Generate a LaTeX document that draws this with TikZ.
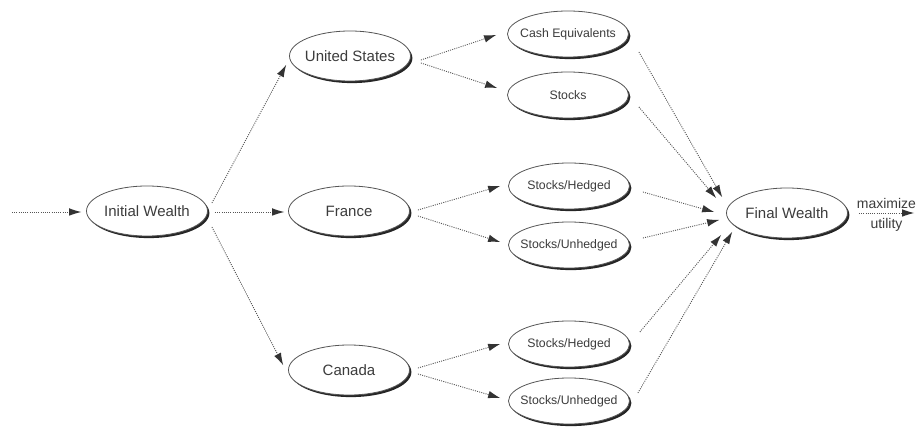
\documentclass[tikz,border=0pt]{standalone}
\usepackage{fontspec}
\setmainfont{Liberation Sans}
\usetikzlibrary{shapes.geometric,shadows,calc,arrows.meta}
\definecolor{txt}{HTML}{3C3C3C}
\definecolor{edge}{HTML}{555555}
\definecolor{tipc}{HTML}{333333}
\tikzset{
  ellbase/.style={ellipse, draw=edge, line width=0.8pt, fill=white, inner sep=0pt,
    text=txt, drop shadow={shadow xshift=1.9pt, shadow yshift=-2.1pt, opacity=1, fill=black!85}},
  bigell/.style={ellbase, minimum width=121pt, minimum height=50pt, font=\fontsize{15}{17}\selectfont},
  smallell/.style={ellbase, minimum width=121pt, minimum height=46pt, font=\fontsize{12.3}{14}\selectfont},
  conn/.style={draw=edge, line width=0.9pt, dash pattern=on 1pt off 1.2pt,
    -{Latex[length=12pt,width=7.5pt,fill=tipc,color=tipc,line width=0pt]}},
  lbl/.style={text=txt, font=\fontsize{14}{16}\selectfont, inner sep=1pt}
}
\begin{document}
\begin{tikzpicture}[x=1pt,y=-1pt]
\useasboundingbox (0,0) rectangle (920,427);
\node[bigell] (iw) at (147,211) {\makebox[0pt]{Initial Wealth}};
\node[bigell] (us) at (350,56) {\makebox[0pt]{United States}};
\node[bigell] (fr) at (349,211) {\makebox[0pt]{France}};
\node[bigell] (ca) at (349,370) {\makebox[0pt]{Canada}};
\node[smallell] (cash) at (568,34) {\makebox[0pt]{Cash Equivalents}};
\node[smallell] (stk) at (568,95) {\makebox[0pt]{Stocks}};
\node[smallell] (fh) at (569,186) {\makebox[0pt]{Stocks/Hedged}};
\node[smallell] (fu) at (569,245) {\makebox[0pt]{Stocks/Unhedged}};
\node[smallell] (ch) at (569,344) {\makebox[0pt]{Stocks/Hedged}};
\node[smallell] (cu) at (569,401) {\makebox[0pt]{Stocks/Unhedged}};
\node[bigell] (fw) at (787,213) {\makebox[0pt]{Final Wealth}};
\coordinate (src) at (12,212);
\coordinate (out) at (914,213);

\draw[conn] (src) -- ($(iw.west)+(-5,1)$);
\draw[conn] ($(iw.east)+(4,-8)$) -- ($(us.west)+(-3,9)$);
\draw[conn] ($(iw.east)+(7,1)$) -- ($(fr.west)+(-4,1)$);
\draw[conn] ($(iw.east)+(4,16)$) -- ($(ca.west)+(-5,-5)$);

\draw[conn] ($(us.east)+(10,4)$) -- ($(cash.west)+(-11,1)$);
\draw[conn] ($(us.east)+(10,7)$) -- ($(stk.west)+(-10,-7)$);
\draw[conn] ($(fr.east)+(8,-1)$) -- ($(fh.west)+(-8,0)$);
\draw[conn] ($(fr.east)+(8,5)$) -- ($(fu.west)+(-8,-3)$);
\draw[conn] ($(ca.east)+(8,-2)$) -- ($(ch.west)+(-8,0)$);
\draw[conn] ($(ca.east)+(8,4)$) -- ($(cu.west)+(-8,-3)$);

\draw[conn] ($(cash.east)+(10,18)$) -- ($(fw.west)+(-4,-16)$);
\draw[conn] ($(stk.east)+(10,12)$) -- ($(fw.west)+(-10,-15)$);
\draw[conn] ($(fh.east)+(13,6)$) -- ($(fw.west)+(-12,-1)$);
\draw[conn] ($(fu.east)+(13,-7)$) -- ($(fw.west)+(-7,7)$);
\draw[conn] ($(ch.east)+(10,-12)$) -- ($(fw.west)+(-5,22)$);
\draw[conn] ($(cu.east)+(8,-8)$) -- ($(fw.west)+(6,19)$);

\draw[conn] ($(fw.east)+(11,0)$) -- (out)
  node[lbl, midway, above=3pt] (mx) {maximize}
  node[lbl, midway, below=4pt] (ut) {utility};
\end{tikzpicture}
\end{document}
